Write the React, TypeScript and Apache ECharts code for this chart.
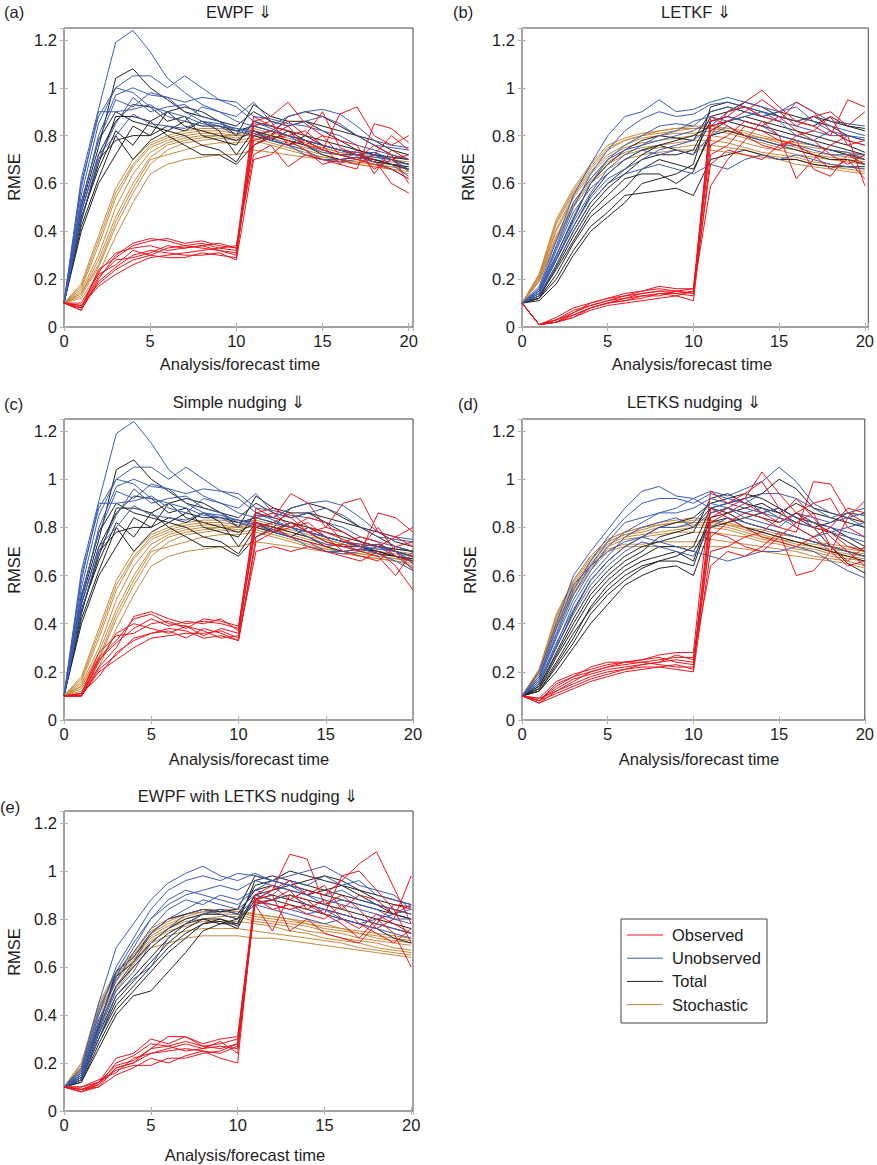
import React, { useEffect, useRef } from 'react';
import * as echarts from 'echarts';

// ---------- labels ----------
const timeSteps = [0, 1, 2, 3, 4, 5, 6, 7, 8, 9, 10, 11, 12, 13, 14, 15, 16, 17, 18, 19, 20];
const panelTitles = ['EWPF \u21D3', 'LETKF \u21D3', 'Simple nudging \u21D3', 'LETKS nudging \u21D3', 'EWPF with LETKS nudging \u21D3'];
const panelLetters = ['(a)', '(b)', '(c)', '(d)', '(e)'];
const legendNames = ['Observed', 'Unobserved', 'Total', 'Stochastic'];
const xAxisName = 'Analysis/forecast time';
const yAxisName = 'RMSE';

// ---------- (a) EWPF ----------
const aUnobs = [
  [.1,.62,.91,1.19,1.24,1.15,1.04,.98,.93,.90,.86,.84,.82,.80,.78,.76,.74,.72,.71,.70,.68],
  [.1,.55,.85,1.0,1.05,1.05,1.0,1.05,1.0,.95,.92,.86,.83,.80,.78,.76,.74,.73,.72,.70,.66],
  [.1,.50,.80,.97,1.0,.97,.96,.94,.96,.95,.94,.88,.87,.85,.84,.82,.80,.76,.74,.72,.70],
  [.1,.58,.90,.90,.91,.93,.88,.86,.92,.90,.88,.94,.86,.84,.86,.88,.85,.80,.76,.75,.74],
  [.1,.45,.70,.85,.96,.90,.92,.93,.88,.86,.82,.80,.82,.80,.76,.73,.72,.72,.73,.70,.65],
  [.1,.52,.78,.95,.92,.98,.96,.90,.86,.85,.83,.82,.79,.76,.72,.70,.69,.70,.72,.68,.63],
  [.1,.48,.72,.80,.89,.85,.84,.83,.86,.84,.80,.85,.84,.88,.90,.91,.89,.84,.78,.76,.75],
  [.1,.60,.88,1.0,.98,.92,.90,.88,.85,.84,.83,.81,.78,.76,.74,.70,.70,.71,.69,.66,.62],
];
const aTotal = [
  [.1,.50,.75,1.04,1.08,1.0,.95,.90,.88,.86,.80,.93,.88,.86,.86,.82,.78,.74,.72,.70,.68],
  [.1,.45,.68,.88,.88,.86,.90,.84,.82,.80,.78,.82,.80,.88,.90,.88,.84,.80,.76,.72,.70],
  [.1,.42,.62,.80,.70,.78,.82,.80,.76,.74,.69,.80,.78,.82,.80,.76,.74,.72,.70,.68,.66],
  [.1,.48,.72,.86,.93,.92,.86,.88,.80,.78,.76,.86,.84,.82,.78,.74,.72,.72,.73,.70,.68],
  [.1,.40,.60,.72,.84,.80,.84,.82,.86,.82,.72,.82,.78,.76,.80,.78,.76,.74,.72,.71,.70],
  [.1,.46,.66,.82,.76,.86,.80,.76,.72,.72,.68,.76,.80,.78,.76,.72,.70,.71,.70,.68,.67],
  [.1,.44,.70,.78,.80,.80,.90,.92,.90,.86,.84,.90,.86,.84,.86,.84,.82,.80,.78,.74,.72],
  [.1,.52,.78,.90,.86,.84,.82,.86,.84,.84,.82,.84,.82,.80,.78,.76,.74,.72,.69,.68,.66],
];
const aStoch = [
  [.1,.18,.38,.58,.70,.77,.80,.82,.83,.83,.82,.83,.81,.80,.78,.76,.74,.73,.72,.71,.70],
  [.1,.16,.34,.54,.67,.75,.78,.80,.81,.81,.80,.82,.80,.78,.76,.75,.73,.72,.70,.69,.68],
  [.1,.15,.30,.50,.64,.73,.77,.79,.80,.80,.79,.81,.79,.77,.75,.73,.72,.70,.69,.68,.67],
  [.1,.14,.28,.46,.60,.71,.76,.78,.79,.80,.80,.80,.78,.76,.74,.72,.70,.69,.68,.67,.66],
  [.1,.13,.25,.42,.56,.68,.74,.77,.78,.79,.78,.79,.77,.75,.73,.71,.70,.68,.67,.66,.65],
  [.1,.12,.22,.38,.52,.64,.68,.70,.71,.72,.72,.74,.73,.72,.71,.70,.69,.68,.67,.66,.64],
  [.1,.17,.36,.56,.68,.76,.79,.81,.82,.82,.81,.82,.80,.79,.77,.75,.73,.72,.71,.70,.69],
  [.1,.14,.26,.44,.58,.70,.72,.74,.76,.77,.77,.78,.76,.74,.72,.71,.70,.69,.68,.67,.66],
];
const aObs = [
  [.1,.07,.20,.30,.35,.37,.36,.34,.33,.32,.30,.86,.88,.94,.85,.80,.72,.70,.68,.66,.62],
  [.1,.08,.24,.29,.34,.36,.37,.35,.36,.34,.33,.88,.84,.82,.76,.74,.89,.92,.80,.76,.80],
  [.1,.09,.17,.22,.26,.29,.30,.31,.32,.33,.34,.72,.76,.67,.72,.70,.68,.66,.85,.83,.77],
  [.1,.10,.22,.26,.32,.30,.33,.34,.35,.33,.32,.80,.82,.86,.80,.90,.75,.72,.70,.60,.56],
  [.1,.07,.19,.25,.30,.32,.31,.30,.30,.31,.28,.70,.72,.78,.74,.68,.70,.68,.72,.80,.74],
  [.1,.08,.21,.28,.29,.31,.34,.33,.34,.35,.33,.76,.79,.80,.82,.76,.68,.74,.66,.70,.72],
  [.1,.09,.18,.24,.28,.30,.29,.29,.31,.30,.29,.84,.86,.76,.78,.74,.72,.70,.76,.72,.60],
  [.1,.08,.23,.31,.33,.34,.32,.33,.34,.32,.31,.78,.80,.84,.76,.80,.78,.76,.64,.74,.70],
];

// ---------- (b) LETKF ----------
const bUnobs = [
  [.1,.17,.36,.55,.68,.80,.88,.90,.95,.90,.91,.94,.96,.94,.92,.90,.94,.90,.86,.85,.84],
  [.1,.16,.33,.50,.64,.74,.82,.87,.90,.88,.89,.93,.94,.92,.90,.88,.86,.88,.84,.82,.80],
  [.1,.15,.30,.46,.60,.70,.76,.80,.84,.85,.84,.90,.92,.90,.88,.86,.84,.82,.80,.80,.78],
  [.1,.14,.28,.44,.56,.66,.72,.76,.80,.82,.86,.88,.86,.88,.90,.86,.80,.78,.82,.78,.76],
  [.1,.15,.32,.48,.58,.64,.70,.74,.72,.74,.72,.80,.84,.80,.78,.76,.76,.74,.72,.72,.72],
  [.1,.13,.26,.40,.52,.60,.64,.66,.68,.66,.64,.68,.66,.70,.72,.70,.72,.70,.68,.67,.66],
  [.1,.16,.34,.52,.62,.70,.74,.76,.78,.80,.82,.86,.88,.86,.84,.80,.78,.76,.74,.73,.70],
  [.1,.14,.29,.42,.54,.62,.66,.70,.74,.76,.78,.84,.90,.92,.88,.90,.92,.86,.82,.80,.79],
];
const bTotal = [
  [.1,.12,.20,.32,.42,.48,.55,.56,.57,.58,.55,.70,.72,.74,.72,.70,.70,.68,.67,.67,.67],
  [.1,.13,.24,.36,.48,.55,.62,.64,.64,.60,.65,.82,.86,.88,.86,.84,.82,.80,.78,.76,.73],
  [.1,.11,.18,.30,.40,.46,.52,.60,.62,.64,.68,.92,.94,.92,.90,.88,.86,.88,.86,.84,.82],
  [.1,.14,.28,.42,.55,.64,.70,.74,.76,.74,.72,.86,.88,.86,.84,.82,.80,.78,.76,.74,.72],
  [.1,.12,.22,.35,.46,.52,.58,.66,.70,.68,.66,.80,.82,.80,.78,.76,.74,.72,.70,.70,.68],
  [.1,.15,.30,.45,.60,.68,.74,.78,.80,.79,.78,.90,.92,.90,.88,.90,.88,.86,.84,.80,.78],
  [.1,.12,.25,.38,.50,.58,.64,.70,.72,.72,.74,.88,.90,.94,.92,.88,.86,.84,.88,.84,.83],
  [.1,.13,.26,.40,.52,.60,.66,.72,.76,.78,.80,.84,.86,.84,.82,.80,.78,.76,.74,.72,.70],
];
const bStoch = [
  [.1,.22,.45,.58,.68,.76,.79,.81,.82,.83,.84,.84,.83,.82,.80,.78,.76,.75,.74,.73,.72],
  [.1,.21,.43,.56,.66,.74,.78,.80,.81,.82,.83,.83,.82,.80,.79,.77,.75,.73,.72,.71,.70],
  [.1,.21,.41,.55,.65,.72,.76,.79,.80,.81,.81,.82,.81,.79,.77,.75,.74,.72,.71,.70,.69],
  [.1,.20,.40,.54,.64,.71,.75,.77,.78,.79,.80,.80,.79,.77,.75,.74,.72,.71,.70,.69,.68],
  [.1,.20,.38,.52,.62,.69,.73,.75,.76,.77,.78,.78,.77,.75,.73,.72,.71,.69,.68,.67,.66],
  [.1,.19,.36,.50,.60,.66,.70,.72,.73,.74,.74,.74,.73,.72,.71,.70,.68,.67,.66,.65,.64],
  [.1,.22,.44,.57,.67,.75,.78,.80,.82,.83,.83,.84,.82,.81,.79,.78,.77,.76,.74,.72,.71],
  [.1,.19,.37,.51,.61,.68,.72,.74,.75,.75,.76,.76,.75,.74,.72,.71,.70,.68,.67,.66,.65],
];
const bObs = [
  [.1,.01,.04,.08,.10,.12,.14,.15,.17,.16,.16,.86,.88,.94,.99,.92,.86,.84,.80,.95,.92],
  [.1,.01,.02,.06,.09,.11,.12,.14,.15,.15,.14,.80,.90,.92,.88,.86,.94,.90,.82,.78,.76],
  [.1,.01,.03,.05,.08,.10,.11,.13,.14,.14,.15,.59,.70,.78,.86,.80,.62,.70,.76,.80,.59],
  [.1,.01,.02,.04,.07,.09,.10,.11,.12,.13,.11,.72,.76,.84,.82,.78,.76,.72,.66,.70,.62],
  [.1,.01,.03,.07,.09,.11,.13,.14,.15,.14,.13,.84,.86,.90,.95,.90,.84,.88,.90,.84,.90],
  [.1,.01,.02,.05,.08,.10,.12,.13,.13,.15,.16,.76,.80,.86,.84,.88,.82,.78,.72,.68,.72],
  [.1,.01,.03,.06,.10,.12,.13,.15,.16,.15,.14,.88,.84,.80,.76,.74,.80,.82,.88,.76,.78],
  [.1,.01,.02,.04,.08,.10,.11,.12,.14,.13,.15,.68,.74,.72,.70,.76,.78,.66,.63,.72,.68],
];

// ---------- (c) Simple nudging (unobserved / total / stochastic as in (a)) ----------
const cUnobs = aUnobs;
const cTotal = aTotal;
const cStoch = aStoch;
const cObs = [
  [.1,.10,.22,.30,.43,.45,.42,.40,.41,.40,.38,.88,.84,.94,.90,.80,.90,.92,.78,.76,.80],
  [.1,.11,.28,.35,.36,.40,.41,.38,.42,.41,.39,.86,.88,.84,.78,.74,.72,.70,.86,.84,.78],
  [.1,.10,.20,.25,.30,.34,.35,.36,.36,.37,.34,.70,.72,.70,.72,.70,.68,.66,.70,.64,.54],
  [.1,.10,.25,.32,.38,.42,.39,.41,.40,.42,.37,.80,.82,.86,.80,.78,.75,.72,.80,.70,.62],
  [.1,.11,.18,.28,.33,.36,.37,.34,.38,.36,.33,.74,.78,.80,.82,.76,.70,.68,.66,.72,.74],
  [.1,.10,.24,.36,.40,.38,.36,.39,.35,.38,.36,.82,.80,.76,.74,.72,.73,.70,.68,.60,.70],
  [.1,.10,.21,.27,.34,.36,.38,.37,.34,.35,.33,.76,.79,.82,.78,.80,.78,.74,.72,.76,.72],
  [.1,.11,.26,.33,.42,.44,.40,.39,.37,.34,.35,.84,.86,.80,.84,.82,.74,.76,.74,.68,.66],
];

// ---------- (d) LETKS nudging ----------
const dUnobs = [
  [.1,.20,.40,.60,.70,.79,.88,.95,.97,.93,.92,.95,.93,.96,.99,1.05,.99,.90,.86,.84,.80],
  [.1,.18,.36,.54,.66,.76,.84,.90,.92,.92,.90,.94,.92,.90,.94,.94,.92,.88,.84,.86,.88],
  [.1,.17,.34,.50,.62,.72,.78,.82,.86,.86,.88,.92,.90,.88,.86,.84,.82,.80,.78,.76,.74],
  [.1,.16,.32,.46,.58,.66,.72,.76,.80,.80,.82,.90,.88,.86,.88,.84,.80,.76,.78,.80,.82],
  [.1,.18,.38,.56,.64,.70,.74,.76,.74,.72,.70,.68,.66,.68,.70,.70,.72,.70,.66,.62,.59],
  [.1,.15,.30,.44,.56,.64,.70,.74,.72,.70,.68,.80,.84,.82,.80,.78,.76,.74,.72,.70,.68],
  [.1,.17,.35,.52,.64,.74,.82,.84,.86,.88,.92,.88,.90,.92,.86,.88,.84,.82,.80,.78,.76],
  [.1,.16,.31,.48,.60,.68,.76,.80,.82,.84,.80,.86,.88,.84,.82,.80,.86,.84,.82,.84,.86],
];
const dTotal = [
  [.1,.12,.20,.30,.40,.48,.56,.60,.63,.64,.60,.80,.82,.84,.86,.88,.84,.80,.72,.65,.61],
  [.1,.13,.24,.36,.46,.54,.60,.64,.66,.68,.72,.88,.90,.92,.94,1.0,.96,.88,.86,.84,.82],
  [.1,.12,.22,.32,.44,.52,.58,.63,.66,.66,.64,.84,.86,.82,.80,.78,.76,.74,.72,.70,.68],
  [.1,.14,.28,.42,.54,.62,.68,.72,.74,.76,.78,.92,.94,.90,.88,.86,.90,.86,.84,.82,.80],
  [.1,.13,.26,.38,.50,.58,.64,.68,.72,.72,.70,.82,.84,.80,.78,.76,.74,.72,.70,.68,.66],
  [.1,.15,.30,.45,.58,.66,.72,.76,.80,.82,.84,.90,.92,.94,.92,.88,.84,.82,.80,.76,.72],
  [.1,.12,.23,.34,.47,.56,.62,.66,.68,.70,.66,.86,.88,.86,.84,.82,.86,.82,.78,.74,.70],
  [.1,.14,.27,.40,.52,.60,.66,.70,.76,.78,.80,.88,.86,.88,.90,.86,.82,.80,.82,.86,.85],
];
const dStoch = [
  [.1,.21,.44,.58,.68,.75,.78,.80,.82,.83,.84,.83,.82,.80,.78,.76,.74,.73,.72,.71,.70],
  [.1,.21,.42,.57,.67,.74,.77,.79,.81,.82,.82,.82,.81,.79,.77,.75,.74,.72,.71,.70,.69],
  [.1,.20,.41,.56,.66,.74,.77,.78,.80,.80,.81,.81,.80,.78,.76,.75,.73,.72,.70,.69,.68],
  [.1,.20,.40,.55,.65,.73,.76,.77,.78,.79,.80,.80,.79,.77,.75,.74,.72,.71,.69,.68,.67],
  [.1,.20,.39,.54,.64,.72,.75,.76,.77,.78,.78,.78,.77,.76,.74,.73,.71,.70,.68,.67,.66],
  [.1,.19,.38,.53,.63,.71,.73,.73,.74,.74,.74,.75,.74,.73,.72,.71,.70,.68,.67,.66,.64],
  [.1,.21,.43,.58,.68,.75,.78,.80,.81,.82,.83,.83,.81,.80,.79,.77,.76,.74,.73,.72,.71],
  [.1,.19,.38,.52,.62,.70,.72,.72,.72,.72,.72,.72,.72,.71,.70,.69,.68,.67,.66,.65,.63],
];
const dObs = [
  [.1,.08,.14,.18,.22,.24,.24,.25,.27,.28,.28,.95,.90,.94,.99,.88,.80,.76,.70,.84,.91],
  [.1,.07,.12,.16,.20,.22,.23,.24,.25,.26,.26,.64,.70,.68,.72,.78,.60,.62,.70,.64,.66],
  [.1,.09,.16,.19,.21,.23,.24,.24,.23,.22,.22,.84,.88,.92,1.03,.94,.86,.80,.78,.72,.70],
  [.1,.08,.13,.17,.19,.21,.22,.23,.24,.25,.24,.76,.82,.86,.84,.80,.78,.99,.98,.86,.82],
  [.1,.07,.10,.13,.16,.18,.20,.21,.22,.21,.20,.70,.72,.76,.78,.84,.92,.84,.76,.70,.64],
  [.1,.08,.15,.18,.20,.22,.24,.25,.26,.24,.23,.88,.84,.80,.76,.74,.72,.76,.80,.88,.86],
  [.1,.09,.12,.15,.18,.20,.21,.22,.22,.23,.21,.78,.76,.72,.70,.76,.82,.86,.72,.66,.72],
  [.1,.08,.11,.14,.17,.19,.21,.23,.24,.27,.25,.82,.86,.90,.86,.82,.86,.90,.92,.80,.76],
];

// ---------- (e) EWPF with LETKS nudging ----------
const eUnobs = [
  [.1,.18,.45,.68,.78,.88,.95,.99,1.02,.98,.96,.99,.96,.98,1.0,1.02,.98,.94,.92,.90,.84],
  [.1,.16,.40,.60,.72,.84,.92,.96,.98,.96,.99,.98,.96,.94,.92,.90,.92,.88,.86,.84,.82],
  [.1,.15,.36,.56,.68,.80,.86,.90,.92,.94,.92,.96,.94,.92,.90,.88,.86,.84,.82,.80,.78],
  [.1,.14,.34,.52,.62,.74,.80,.84,.88,.86,.84,.90,.88,.90,.86,.84,.82,.80,.78,.76,.74],
  [.1,.17,.42,.58,.70,.80,.88,.92,.90,.88,.86,.92,.96,.94,.90,.86,.88,.86,.84,.80,.80],
  [.1,.13,.30,.48,.55,.60,.72,.78,.82,.84,.82,.88,.86,.84,.82,.84,.80,.78,.76,.74,.72],
  [.1,.16,.38,.54,.66,.76,.84,.88,.86,.90,.88,.92,.90,.96,.94,.98,.94,.96,.90,.88,.86],
  [.1,.15,.33,.50,.58,.70,.76,.82,.84,.82,.80,.86,.84,.82,.80,.78,.80,.78,.80,.82,.84],
];
const eTotal = [
  [.1,.12,.26,.40,.48,.50,.58,.66,.75,.78,.78,.90,.92,.94,.92,.90,.88,.86,.84,.82,.80],
  [.1,.13,.30,.46,.54,.62,.70,.76,.80,.80,.78,.96,.98,.96,.94,.92,.90,.88,.86,.84,.82],
  [.1,.14,.34,.52,.60,.68,.74,.78,.82,.82,.80,.94,.96,1.0,.98,.96,.94,.92,.88,.86,.85],
  [.1,.12,.28,.42,.50,.58,.66,.72,.78,.80,.77,.88,.90,.88,.86,.84,.82,.80,.78,.76,.74],
  [.1,.15,.36,.56,.62,.70,.76,.80,.82,.84,.82,.92,.94,.92,.90,.92,.94,.90,.86,.82,.80],
  [.1,.13,.32,.48,.56,.64,.72,.78,.80,.78,.80,.86,.88,.86,.84,.82,.80,.78,.76,.72,.70],
  [.1,.14,.35,.58,.64,.74,.80,.82,.84,.83,.84,.98,.96,.94,.96,.98,.96,.92,.90,.88,.86],
  [.1,.13,.30,.44,.52,.60,.68,.74,.78,.79,.76,.90,.88,.90,.88,.86,.84,.82,.80,.78,.76],
];
const eStoch = [
  [.1,.20,.45,.58,.66,.76,.80,.82,.84,.84,.84,.82,.81,.80,.79,.78,.76,.75,.74,.73,.72],
  [.1,.19,.43,.56,.65,.74,.78,.81,.83,.83,.83,.81,.80,.79,.78,.76,.75,.74,.72,.71,.70],
  [.1,.18,.41,.55,.64,.73,.77,.80,.82,.82,.82,.80,.79,.78,.77,.75,.74,.72,.71,.70,.69],
  [.1,.18,.40,.54,.63,.72,.76,.79,.80,.81,.81,.79,.78,.77,.75,.74,.72,.71,.70,.68,.67],
  [.1,.17,.38,.52,.62,.71,.75,.77,.79,.79,.79,.78,.77,.75,.74,.72,.71,.70,.68,.67,.66],
  [.1,.16,.36,.50,.60,.68,.70,.72,.73,.73,.73,.72,.72,.71,.70,.69,.68,.67,.66,.65,.64],
  [.1,.20,.44,.57,.66,.75,.79,.82,.83,.83,.83,.82,.81,.80,.78,.77,.76,.74,.73,.72,.71],
  [.1,.17,.37,.51,.61,.70,.73,.75,.76,.76,.76,.75,.74,.73,.72,.71,.70,.68,.67,.66,.65],
];
const eObs = [
  [.1,.08,.12,.22,.24,.30,.28,.31,.27,.28,.30,.88,.92,1.07,1.05,.86,.90,.84,.76,.80,.98],
  [.1,.09,.10,.18,.20,.26,.31,.31,.28,.30,.31,.90,.94,.88,.92,.90,.96,1.03,1.08,.93,.78],
  [.1,.10,.13,.16,.22,.24,.26,.28,.26,.27,.26,.86,.75,.90,.88,.82,.78,.72,.80,.74,.60],
  [.1,.08,.11,.20,.23,.28,.27,.25,.26,.29,.24,.87,.86,.84,.86,.82,.98,1.0,.92,.84,.70],
  [.1,.09,.12,.17,.19,.19,.22,.22,.24,.25,.28,.88,.90,.75,.80,.74,.72,.70,.78,.86,.84],
  [.1,.08,.10,.15,.18,.22,.20,.23,.25,.22,.20,.89,.84,.86,.82,.80,.86,.78,.74,.70,.76],
  [.1,.10,.12,.19,.21,.26,.27,.29,.27,.26,.28,.88,.92,.96,.90,.94,.84,.90,.88,.82,.86],
  [.1,.09,.11,.18,.20,.24,.25,.26,.25,.24,.27,.87,.88,.92,.84,.88,.80,.76,.82,.78,.74],
];

// ---------- assembly ----------
const panelData = [
  { obs: aObs, unobs: aUnobs, total: aTotal, stoch: aStoch },
  { obs: bObs, unobs: bUnobs, total: bTotal, stoch: bStoch },
  { obs: cObs, unobs: cUnobs, total: cTotal, stoch: cStoch },
  { obs: dObs, unobs: dUnobs, total: dTotal, stoch: dStoch },
  { obs: eObs, unobs: eUnobs, total: eTotal, stoch: eStoch },
];

const COLORS = { obs: '#e8161e', unobs: '#3b5db3', total: '#222222', stoch: '#c8893c' };
const FONT = '"Liberation Sans", Arial, Helvetica, sans-serif';
const TEXT = '#1e1e1e';
const FS = 16.5;

const layout = [
  { left: 64, top: 28, width: 349, height: 299, xmax: 20.25, letter: [4, 12], title: [239, 12], yName: [14, 177], xName: [240, 364] },
  { left: 522, top: 28, width: 348, height: 299, xmax: 20.2, letter: [453, 12], title: [696, 12], yName: [468, 177], xName: [692, 364] },
  { left: 64, top: 419, width: 349, height: 301, xmax: 20, letter: [4, 404], title: [239, 402], yName: [14, 570], xName: [249, 759] },
  { left: 522, top: 419, width: 346, height: 301, xmax: 20, letter: [458, 404], title: [694, 402], yName: [470, 570], xName: [699, 759] },
  { left: 64, top: 811, width: 349, height: 300, xmax: 20.1, letter: [0, 807], title: [248, 796], yName: [14, 952], xName: [245, 1155] },
];

const legendBox = { x: 621, y: 919, w: 146, h: 104 };

function yFmt(v: number) {
  const r = Math.round(v * 10) / 10;
  return Math.abs(v - r) < 1e-6 && Math.abs(r * 5 - Math.round(r * 5)) < 1e-6 ? String(r) : '';
}
function xFmt(v: number) {
  return Math.abs(v % 5) < 1e-6 ? String(v) : '';
}

function buildOption() {
  const grid: any[] = [];
  const xAxis: any[] = [];
  const yAxis: any[] = [];
  const series: any[] = [];
  const graphic: any[] = [];
  const tick = { show: true, inside: true, length: 4, lineStyle: { color: '#b0b0b0', width: 1 } };

  layout.forEach((L, i) => {
    grid.push({ left: L.left, top: L.top, width: L.width, height: L.height, show: true, borderColor: '#444', borderWidth: 1, backgroundColor: 'transparent', containLabel: false });
    xAxis.push({
      gridIndex: i, type: 'value', min: 0, max: L.xmax, interval: 5,
      axisLine: { show: false }, axisTick: tick, splitLine: { show: false },
      axisLabel: { margin: 5, fontSize: FS, color: TEXT, fontFamily: FONT, formatter: xFmt },
    });
    xAxis.push({
      gridIndex: i, type: 'value', position: 'top', min: 0, max: L.xmax, interval: 5,
      axisLine: { show: false }, axisTick: tick, splitLine: { show: false }, axisLabel: { show: false },
    });
    yAxis.push({
      gridIndex: i, type: 'value', min: 0, max: 1.25, interval: 0.2,
      axisLine: { show: false }, axisTick: tick, splitLine: { show: false },
      axisLabel: { margin: 7, fontSize: FS, color: TEXT, fontFamily: FONT, formatter: yFmt },
    });
    yAxis.push({
      gridIndex: i, type: 'value', position: 'right', min: 0, max: 1.25, interval: 0.2,
      axisLine: { show: false }, axisTick: tick, splitLine: { show: false }, axisLabel: { show: false },
    });

    const P = panelData[i];
    const groups: [string, number[][], string][] = [
      ['Stochastic', P.stoch, COLORS.stoch],
      ['Total', P.total, COLORS.total],
      ['Unobserved', P.unobs, COLORS.unobs],
      ['Observed', P.obs, COLORS.obs],
    ];
    groups.forEach(([name, lines, color], gi) => {
      lines.forEach((vals) => {
        series.push({
          type: 'line', name, xAxisIndex: 2 * i, yAxisIndex: 2 * i,
          data: vals.map((v, t) => [timeSteps[t], v]),
          symbol: 'none', showSymbol: false, silent: true, z: 2 + gi,
          lineStyle: { color, width: 1 },
        });
      });
    });

    graphic.push({ type: 'text', x: L.letter[0], y: L.letter[1], style: { text: panelLetters[i], fill: TEXT, fontSize: FS, fontFamily: FONT, align: 'left', verticalAlign: 'middle', textAlign: 'left', textVerticalAlign: 'middle' } });
    graphic.push({ type: 'text', x: L.title[0], y: L.title[1], style: { text: panelTitles[i], fill: TEXT, fontSize: FS, fontFamily: FONT, align: 'center', verticalAlign: 'middle', textAlign: 'center', textVerticalAlign: 'middle' } });
    graphic.push({ type: 'text', x: L.yName[0], y: L.yName[1], rotation: Math.PI / 2, style: { text: yAxisName, fill: TEXT, fontSize: FS, fontFamily: FONT, align: 'center', verticalAlign: 'middle', textAlign: 'center', textVerticalAlign: 'middle' } });
    graphic.push({ type: 'text', x: L.xName[0], y: L.xName[1], style: { text: xAxisName, fill: TEXT, fontSize: FS, fontFamily: FONT, align: 'center', verticalAlign: 'middle', textAlign: 'center', textVerticalAlign: 'middle' } });
  });

  // legend box
  const B = legendBox;
  graphic.push({ type: 'rect', shape: { x: B.x, y: B.y, width: B.w, height: B.h }, style: { fill: '#fff', stroke: '#444', lineWidth: 1 } });
  const legendColors = [COLORS.obs, COLORS.unobs, COLORS.total, COLORS.stoch];
  legendNames.forEach((n, k) => {
    const yy = 935 + k * 23.2;
    graphic.push({ type: 'line', shape: { x1: 627, y1: yy, x2: 663, y2: yy }, style: { stroke: legendColors[k], lineWidth: 1 } });
    graphic.push({ type: 'text', x: 672, y: yy, style: { text: n, fill: TEXT, fontSize: FS, fontFamily: FONT, align: 'left', verticalAlign: 'middle', textAlign: 'left', textVerticalAlign: 'middle' } });
  });

  return { animation: false, backgroundColor: '#ffffff', grid, xAxis, yAxis, series, graphic };
}

export default function App() {
  const ref = useRef<HTMLDivElement>(null);
  useEffect(() => {
    if (!ref.current) return;
    const chart = echarts.init(ref.current, undefined, { renderer: 'svg' });
    chart.setOption(buildOption() as any);
    return () => chart.dispose();
  }, []);
  return <div ref={ref} style={{ position: 'absolute', left: 0, top: 0, width: 877, height: 1165 }} />;
}
